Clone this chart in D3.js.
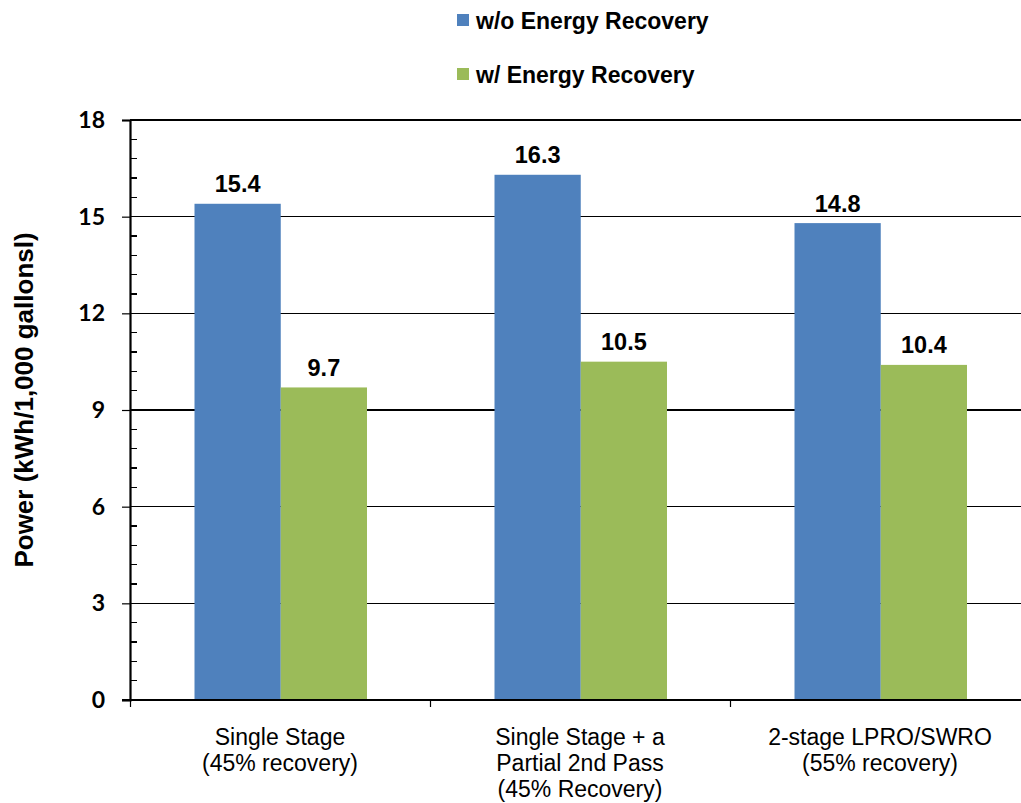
<!DOCTYPE html>
<html>
<head>
<meta charset="utf-8">
<script src="https://cdn.jsdelivr.net/npm/d3@7/dist/d3.min.js"></script>
<style>
  html, body { margin: 0; padding: 0; background: #fff; }
  svg { display: block; }
</style>
</head>
<body>
<svg id="chart" width="1021" height="803"></svg>
<script>
// Power use per configuration, with and without energy recovery
const categories = [
  ["Single Stage", "(45% recovery)"],
  ["Single Stage + a", "Partial 2nd Pass", "(45% Recovery)"],
  ["2-stage LPRO/SWRO", "(55% recovery)"]
];
const seriesNames = ["w/o Energy Recovery", "w/ Energy Recovery"];
const withoutRecovery = [15.4, 16.3, 14.8];
const withRecovery = [9.7, 10.5, 10.4];
const yTicks = [0, 3, 6, 9, 12, 15, 18];
const colors = ["#4F81BD", "#9BBB59"];

(function () {
const svg = d3.select("#chart");
const plotLeft = 130, plotRight = 1030, plotTop = 120, plotBottom = 700;

const y = d3.scaleLinear().domain([0, 18]).range([plotBottom, plotTop]);
const x0 = d3.scaleBand().domain(d3.range(categories.length)).range([plotLeft, plotRight]).padding(0);
const x1 = d3.scaleBand().domain([0, 1]).range([64.5, 237]).padding(0);

// Horizontal gridlines
svg.append("g")
  .selectAll("line")
  .data(yTicks.filter(t => t > 0))
  .join("line")
  .attr("x1", plotLeft).attr("x2", 1021)
  .attr("y1", d => y(d)).attr("y2", d => y(d))
  .attr("stroke", "#000").attr("stroke-width", 1.2).attr("shape-rendering", "crispEdges");

// Bars
const seriesVals = [withoutRecovery, withRecovery];
const groups = svg.append("g")
  .selectAll("g")
  .data(categories.map((c, i) => i))
  .join("g")
  .attr("transform", i => `translate(${x0(i)},0)`);

groups.selectAll("rect")
  .data(i => seriesVals.map((s, k) => ({ k, v: s[i] })))
  .join("rect")
  .attr("x", d => x1(d.k))
  .attr("width", x1.bandwidth())
  .attr("y", d => y(d.v))
  .attr("height", d => y(0) - y(d.v))
  .attr("fill", d => colors[d.k]);

groups.selectAll("text.val")
  .data(i => seriesVals.map((s, k) => ({ k, v: s[i] })))
  .join("text")
  .attr("class", "val")
  .attr("x", d => x1(d.k) + x1.bandwidth() / 2)
  .attr("y", d => y(d.v) - 11.5)
  .attr("text-anchor", "middle")
  .attr("font-family", "Liberation Sans, Arial, sans-serif")
  .attr("font-weight", "bold")
  .attr("font-size", 23.5)
  .text(d => d.v.toFixed(1));

// Y axis
const yAxis = d3.axisLeft(y).tickValues(yTicks).tickSize(8).tickPadding(17).tickFormat(d3.format("d"));
const yg = svg.append("g").attr("transform", `translate(${plotLeft},0)`).call(yAxis);
yg.select(".domain").attr("stroke", "#000").attr("stroke-width", 2.2);
yg.selectAll(".tick line").attr("stroke", "#000").attr("stroke-width", 1.2);
yg.selectAll(".tick text")
  .attr("font-family", "Lato, 'Open Sans', sans-serif")
  .attr("font-weight", "bold")
  .attr("font-size", 23)
  .attr("fill", "#000");

// Minor ticks on the inside of the y axis
const minor = d3.range(0, 18.001, 0.6).filter(v => Math.abs(v / 3 - Math.round(v / 3)) > 1e-6);
svg.append("g")
  .selectAll("line")
  .data(minor)
  .join("line")
  .attr("x1", plotLeft).attr("x2", plotLeft + 7)
  .attr("y1", d => y(d)).attr("y2", d => y(d))
  .attr("stroke", "#000").attr("stroke-width", 1.2).attr("shape-rendering", "crispEdges");

// X axis
svg.append("line")
  .attr("x1", plotLeft - 8).attr("x2", 1021)
  .attr("y1", plotBottom).attr("y2", plotBottom)
  .attr("stroke", "#000").attr("stroke-width", 2.2);
svg.append("g")
  .selectAll("line")
  .data(d3.range(categories.length))
  .join("line")
  .attr("x1", i => x0(i) + 0.5).attr("x2", i => x0(i) + 0.5)
  .attr("y1", plotBottom).attr("y2", plotBottom + 7)
  .attr("stroke", "#000").attr("stroke-width", 1.2);

// Category labels
svg.append("g")
  .selectAll("text")
  .data(categories)
  .join("text")
  .attr("x", (c, i) => x0(i) + x0.bandwidth() / 2)
  .attr("y", 745)
  .attr("text-anchor", "middle")
  .attr("font-family", "Liberation Sans, Arial, sans-serif")
  .attr("font-size", 23)
  .each(function (lines) {
    const cx = d3.select(this).attr("x");
    d3.select(this).selectAll("tspan")
      .data(lines)
      .join("tspan")
      .attr("x", cx)
      .attr("dy", (d, j) => j === 0 ? 0 : 26)
      .text(d => d);
  });

// Y axis title
svg.append("text")
  .attr("transform", "translate(33,400) rotate(-90)")
  .attr("text-anchor", "middle")
  .attr("font-family", "Liberation Sans, Arial, sans-serif")
  .attr("font-weight", "bold")
  .attr("font-size", 26)
  .text("Power (kWh/1,000 gallonsl)");

// Legend
const legend = svg.append("g")
  .selectAll("g")
  .data(seriesNames)
  .join("g")
  .attr("transform", (d, i) => `translate(457,${14 + i * 54})`);
legend.append("rect").attr("width", 12).attr("height", 12).attr("fill", (d, i) => colors[i]);
legend.append("text")
  .attr("x", 19).attr("y", 15)
  .attr("font-family", "Liberation Sans, Arial, sans-serif")
  .attr("font-weight", "bold")
  .attr("font-size", 23)
  .text(d => d);
})();
</script>
</body>
</html>
